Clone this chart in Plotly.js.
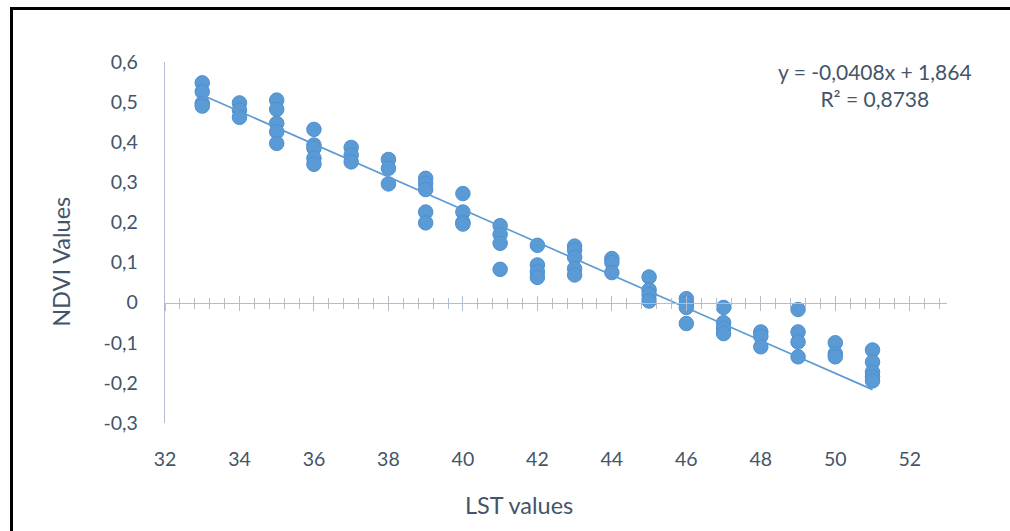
<!DOCTYPE html>
<html>
<head>
<meta charset="utf-8">
<script src="https://cdn.plot.ly/plotly-3.0.1.min.js"></script>
<style>
  html, body { margin: 0; padding: 0; background: #fff; }
  #wrap { position: relative; width: 1010px; height: 531px; overflow: hidden; }
  #chart { position: absolute; left: 0; top: 0; width: 1010px; height: 531px; }
  #frame { position: absolute; left: 10px; top: 7px; width: 1100px; height: 600px;
           border-left: 3px solid #000; border-top: 3px solid #000; pointer-events: none; }
</style>
</head>
<body>
<div id="wrap">
  <div id="chart"></div>
  <div id="frame"></div>
</div>
<script>
// LST (x) and NDVI (y) values
const lstValues = [
  33, 33, 33, 33,
  34, 34, 34,
  35, 35, 35, 35, 35,
  36, 36, 36, 36, 36,
  37, 37, 37,
  38, 38, 38,
  39, 39, 39, 39, 39,
  40, 40, 40, 40,
  41, 41, 41, 41,
  42, 42, 42, 42,
  43, 43, 43, 43, 43,
  44, 44, 44,
  45, 45, 45, 45,
  46, 46, 46, 46,
  47, 47, 47, 47,
  48, 48, 48,
  49, 49, 49, 49,
  50, 50, 50,
  51, 51, 51, 51, 51
];
const ndviValues = [
  0.548, 0.526, 0.497, 0.490,
  0.498, 0.480, 0.462,
  0.505, 0.482, 0.447, 0.426, 0.397,
  0.432, 0.393, 0.385, 0.360, 0.345,
  0.387, 0.368, 0.351,
  0.357, 0.335, 0.296,
  0.310, 0.297, 0.282, 0.226, 0.199,
  0.272, 0.226, 0.200, 0.196,
  0.192, 0.170, 0.148, 0.083,
  0.143, 0.094, 0.077, 0.063,
  0.141, 0.131, 0.113, 0.085, 0.069,
  0.110, 0.100, 0.075,
  0.064, 0.032, 0.020, 0.004,
  0.010, -0.002, -0.012, -0.052,
  -0.012, -0.050, -0.064, -0.077,
  -0.073, -0.084, -0.110,
  -0.017, -0.073, -0.098, -0.135,
  -0.100, -0.127, -0.135,
  -0.118, -0.148, -0.173, -0.185, -0.195
];

// Linear trendline (from the reference equation)
const trendSlope = -0.0408;
const trendIntercept = 1.864;
const trendX = [33, 51];
const trendY = trendX.map(x => trendSlope * x + trendIntercept);
const equationLines = ['y = -0,0408x + 1,864', 'R² = 0,8738'];

// Axis ticks
const xTickVals = [32, 34, 36, 38, 40, 42, 44, 46, 48, 50, 52];
const xTickText = ['32', '34', '36', '38', '40', '42', '44', '46', '48', '50', '52'];
const yTickVals = [-0.3, -0.2, -0.1, 0, 0.1, 0.2, 0.3, 0.4, 0.5, 0.6];
const yTickText = ['-0,3', '-0,2', '-0,1', '0', '0,1', '0,2', '0,3', '0,4', '0,5', '0,6'];

const xTitle = 'LST values';
const yTitle = 'NDVI Values';

const FONT = 'Lato, "Open Sans", sans-serif';
const TXT = '#44546A';
const AXC = '#b3bfd1';
const BLUE = '#5b9bd5';

const xRange = [32, 53];
const yRange = [-0.3, 0.6];
const zeroPos = (0 - yRange[0]) / (yRange[1] - yRange[0]);

const traces = [
  {
    type: 'scatter', mode: 'markers', x: lstValues, y: ndviValues,
    marker: { size: 14.5, color: BLUE, line: { color: '#4f8fcf', width: 1 } },
    hoverinfo: 'x+y', showlegend: false
  },
  {
    type: 'scatter', mode: 'lines', x: trendX, y: trendY,
    line: { color: BLUE, width: 1.7 }, showlegend: false, hoverinfo: 'skip'
  },
  { type: 'scatter', x: [], y: [], xaxis: 'x2', yaxis: 'y', showlegend: false },
  { type: 'scatter', x: [], y: [], xaxis: 'x3', yaxis: 'y', showlegend: false }
];

const zeroAxisBase = {
  overlaying: 'x', anchor: 'free', position: zeroPos, range: xRange,
  showgrid: false, zeroline: false, showticklabels: false,
  tickmode: 'linear', tick0: 32, dtick: 2, ticklen: 7, tickcolor: AXC, tickwidth: 1,
  fixedrange: true
};

const layout = {
  width: 1010, height: 531,
  margin: { l: 165, r: 63, t: 62, b: 108 },
  paper_bgcolor: '#ffffff', plot_bgcolor: '#ffffff',
  font: { family: FONT, color: TXT, size: 19 },
  showlegend: false,
  xaxis: {
    range: xRange, showline: false, showgrid: false, zeroline: false,
    tickmode: 'array', tickvals: xTickVals, ticktext: xTickText, ticks: '',
    ticklabelstandoff: 22,
    tickfont: { family: FONT, size: 19.5, color: TXT }
  },
  xaxis2: Object.assign({}, zeroAxisBase, {
    showline: true, linecolor: AXC, linewidth: 1.3, ticks: 'outside',
    minor: { tick0: 32, dtick: 0.4, ticks: 'outside', ticklen: 5, tickcolor: AXC, tickwidth: 1 }
  }),
  xaxis3: Object.assign({}, zeroAxisBase, {
    showline: false, ticks: 'inside',
    minor: { tick0: 32, dtick: 0.4, ticks: 'inside', ticklen: 5, tickcolor: AXC, tickwidth: 1 }
  }),
  yaxis: {
    range: yRange, showline: true, linecolor: AXC, linewidth: 1.3,
    showgrid: false, zeroline: false,
    tickmode: 'array', tickvals: yTickVals, ticktext: yTickText, ticks: '',
    ticklabelstandoff: 22,
    tickfont: { family: FONT, size: 19.5, color: TXT }
  },
  annotations: [
    {
      xref: 'paper', yref: 'paper', x: 0.908, y: 1.015, xanchor: 'center', yanchor: 'top',
      text: equationLines.join('<br>'), showarrow: false, align: 'center',
      font: { family: FONT, size: 21, color: TXT }
    },
    {
      xref: 'paper', yref: 'paper', x: 0.453, y: -0.2, xanchor: 'center', yanchor: 'middle',
      yshift: -10,
      text: xTitle, showarrow: false, font: { family: FONT, size: 23.5, color: TXT }
    },
    {
      xref: 'paper', yref: 'paper', x: -0.134, y: 0.447, xanchor: 'center', yanchor: 'middle',
      text: yTitle, showarrow: false, textangle: -90,
      font: { family: FONT, size: 23.5, color: TXT }
    }
  ]
};

Plotly.newPlot('chart', traces, layout, { displayModeBar: false, staticPlot: true });
</script>
</body>
</html>
